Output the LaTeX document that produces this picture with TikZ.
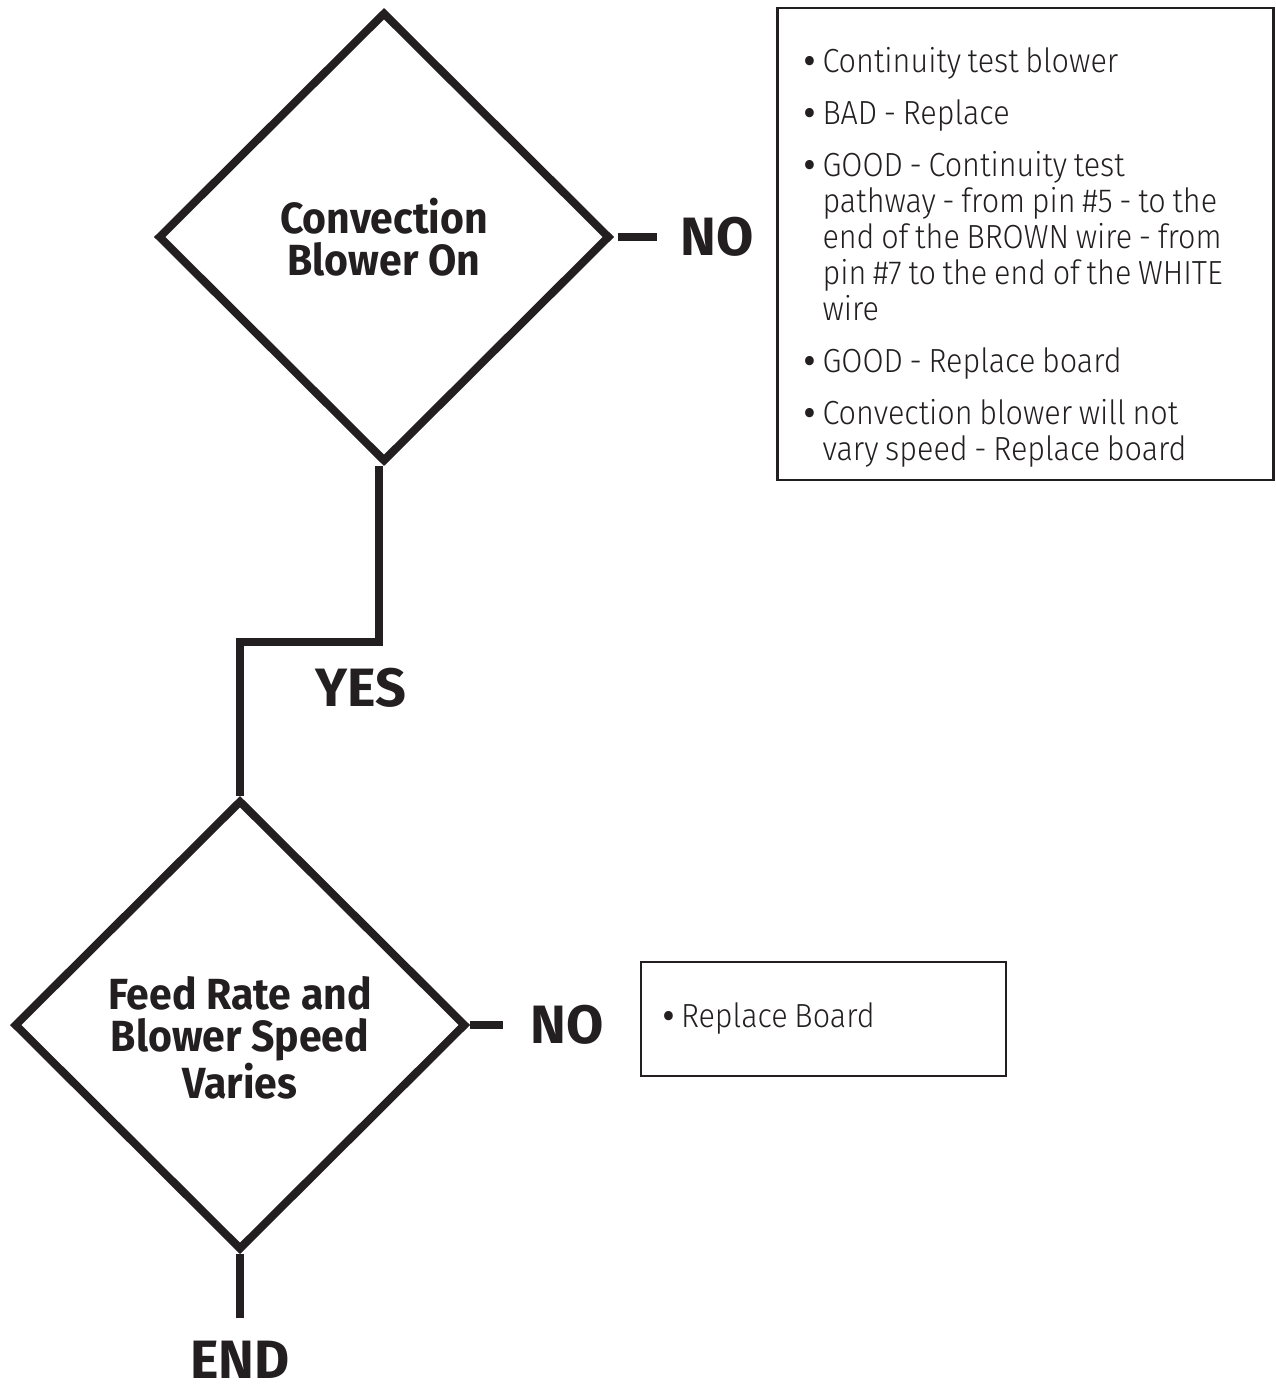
\documentclass[tikz,border=0pt]{standalone}
\usepackage{fontspec}
\newfontfamily\noteFont{Fira Sans Light}[FakeStretch=0.915]
\newfontfamily\headFont{Fira Sans}[FakeStretch=0.94]
\newfontfamily\answerFont{Fira Sans}
\usetikzlibrary{shapes.geometric,positioning}
\definecolor{ink}{HTML}{231F20}

\def\decisionWidth{226pt}
\def\decisionHeight{225pt}
\def\flowThickness{4pt}
\def\itemGap{8pt}

\tikzset{
    decision/.style = {draw = ink, text = ink, shape = diamond,
        line width = \flowThickness, minimum width = \decisionWidth,
        minimum height = \decisionHeight, inner sep = 0pt, align = center,
        font = \headFont\bfseries\fontsize{21.8}{21}\selectfont},
    answer/.style = {text = ink, inner sep = 0pt,
        font = \answerFont\bfseries\fontsize{27}{27}\selectfont},
    flow/.style = {draw = ink, line width = \flowThickness},
    notebox/.style = {draw = ink, line width = 1.25pt, text = ink,
        inner ysep = 0pt, align = left,
        font = \noteFont\fontsize{16.7}{18}\selectfont},
}
\newcommand\noteSpacing{\spaceskip 0.2em plus 0.05em\relax}
\newcommand\noteItem[1]{\makebox[9pt][l]{\headFont\bfseries\textbullet}\mbox{\noteSpacing #1}}
\newcommand\noteMore[1]{\hspace*{9pt}\mbox{\noteSpacing #1}}

\begin{document}
\begin{tikzpicture}[x = 0.5pt, y = -0.5pt]
    \useasboundingbox (0,0) rectangle (1275,1391);
    %% decisions
    \node [decision] (blowerOn) at (384,237) {Convection\\Blower On};
    \node [decision] (feedRate) at (240,1025)
        {\rule{0pt}{29.5pt}Feed Rate and\\Blower Speed\\Varies};
    %% answers
    \node [answer, right = 33pt of blowerOn] (noBlower) {NO};
    \node [answer, right = 30pt of feedRate] (noFeed) {NO};
    \node [answer] (yesLabel) at (361,688) {YES};
    \node [answer, below = 43.5pt of feedRate] (endLabel) {END};
    %% connectors
    \coordinate (yesBend) at (240,642);
    \draw [flow] ([xshift = -2.5pt]blowerOn.south) |- (yesBend) -- (feedRate.north);
    \draw [flow, shorten < = 2pt, shorten > = 11.5pt] (blowerOn) -- (noBlower);
    \draw [flow, shorten > = 13.5pt] (feedRate) -- (noFeed);
    \draw [flow, shorten > = 11.5pt] (feedRate) -- (endLabel);
    %% notes
    \node [notebox, text width = 221pt, inner xsep = 13.5pt,
        minimum height = 236pt] (blowerNotes) at (1025.5,244)
        {\rule{0pt}{26pt}\noteItem{Continuity test blower}\\[\itemGap]
        \noteItem{BAD - Replace}\\[\itemGap]
        \noteItem{GOOD - Continuity test}\\
        \noteMore{pathway - from pin \#5 - to the}\\
        \noteMore{end of the BROWN wire - from}\\
        \noteMore{pin \#7 to the end of the WHITE}\\
        \noteMore{wire}\\[\itemGap]
        \noteItem{GOOD - Replace board}\\[\itemGap]
        \noteItem{Convection blower will not}\\
        \noteMore{vary speed - Replace board}};
    \node [notebox, text width = 160.5pt, inner xsep = 11pt,
        minimum height = 57pt] (boardNotes) at (823.5,1019)
        {\noteItem{Replace Board}};
\end{tikzpicture}
\end{document}
